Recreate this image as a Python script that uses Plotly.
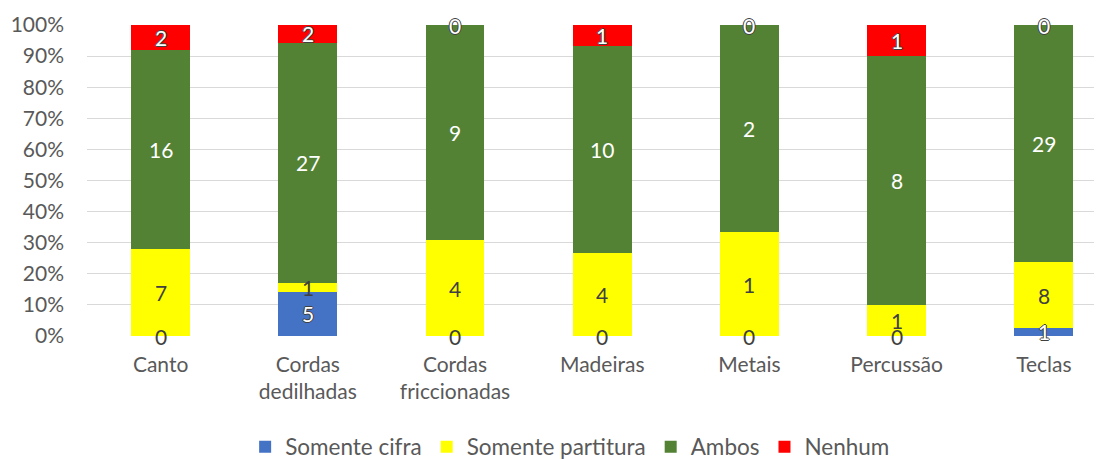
import plotly.graph_objects as go

categories = ["Canto", "Cordas<br>dedilhadas", "Cordas<br>friccionadas", "Madeiras", "Metais", "Percussão", "Teclas"]
series_names = ["Somente cifra", "Somente partitura", "Ambos", "Nenhum"]
somente_cifra = [0, 5, 0, 0, 0, 0, 1]
somente_partitura = [7, 1, 4, 4, 1, 1, 8]
ambos = [16, 27, 9, 10, 2, 8, 29]
nenhum = [2, 2, 0, 1, 0, 1, 0]
y_ticks = [0, 10, 20, 30, 40, 50, 60, 70, 80, 90, 100]
y_tick_labels = [f"{t}%" for t in y_ticks]
colors = ["#4472C4", "#FFFF00", "#548235", "#FF0000"]

series = [somente_cifra, somente_partitura, ambos, nenhum]
FONT = "Lato, Calibri, sans-serif"
GRAY = "#595959"
OUTLINE = "-1px 0 #404040, 1px 0 #404040, 0 -1px #404040, 0 1px #404040"

fig = go.Figure()
for name, vals, col in zip(series_names, series, colors):
    fig.add_trace(go.Bar(name=name, x=list(range(len(categories))), y=vals,
                         marker=dict(color=col, line=dict(width=0)),
                         textposition="none", hoverinfo="skip"))

totals = [sum(s[i] for s in series) for i in range(len(categories))]
annotations = []
for i in range(len(categories)):
    cum = 0.0
    for k, vals in enumerate(series):
        v = vals[i]
        pct = 100.0 * v / totals[i]
        y = cum + pct / 2
        if k == 1 or (k == 0 and v == 0):
            font = dict(family=FONT, size=21, color="#404040")
        elif k == 2:
            font = dict(family=FONT, size=21, color="white")
        else:
            font = dict(family=FONT, size=21, color="white", shadow=OUTLINE)
        annotations.append(dict(x=i, y=y, xref="x", yref="y", text=str(v),
                                showarrow=False, font=font,
                                xanchor="center", yanchor="middle"))
        cum += pct

fig.update_layout(
    barmode="stack", barnorm="percent", bargap=0.6,
    width=1094, height=451,
    margin=dict(l=79, r=0, t=17, b=123, autoexpand=False),
    paper_bgcolor="white", plot_bgcolor="white",
    font=dict(family=FONT, size=21, color=GRAY),
    annotations=annotations,
    showlegend=True,
    legend=dict(orientation="h", x=0.476, y=-0.357, xanchor="center", yanchor="middle",
                font=dict(family=FONT, size=22.5, color=GRAY), traceorder="normal",
                itemwidth=30, itemsizing="constant"),
)
fig.update_xaxes(tickmode="array", tickvals=list(range(len(categories))), ticktext=categories,
                 range=[-0.5, 6.395], showgrid=False, zeroline=False, showline=False,
                 ticks="", ticklabelstandoff=14, tickfont=dict(family=FONT, size=21, color=GRAY))
fig.update_yaxes(range=[0, 100], tickmode="array", tickvals=y_ticks, ticktext=y_tick_labels,
                 showgrid=True, gridcolor="#D9D9D9", gridwidth=1.3, zeroline=False,
                 showline=False, ticks="", ticklabelstandoff=22,
                 tickfont=dict(family=FONT, size=21, color=GRAY))

fig.write_html("out.html")
